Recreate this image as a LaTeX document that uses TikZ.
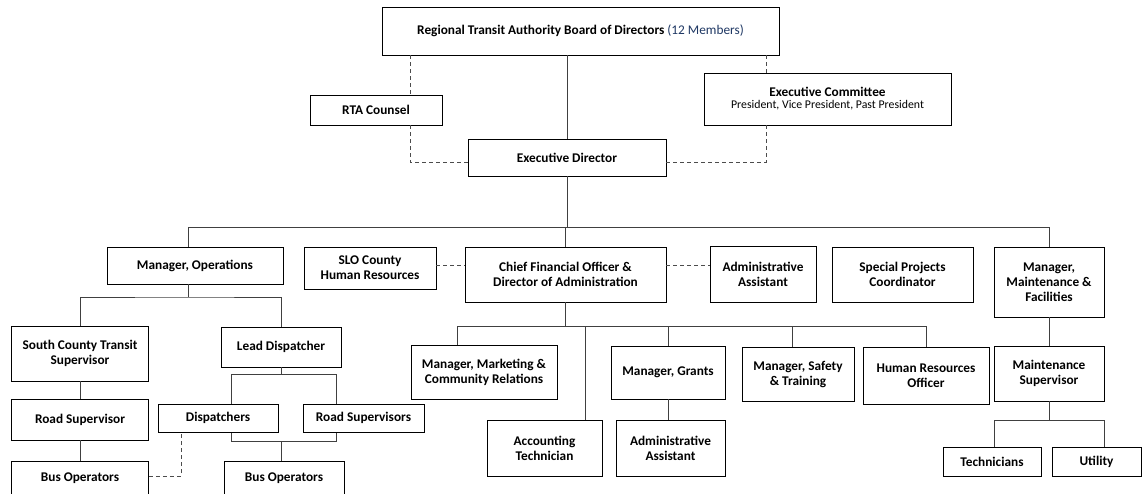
\documentclass[tikz,border=0pt]{standalone}
\usepackage{fontspec}
\setmainfont{Carlito}
\usepackage{tikz}
\usetikzlibrary{positioning,backgrounds}
\definecolor{memberblue}{RGB}{31,56,100}

\begin{document}
\begin{tikzpicture}[x=1pt,y=-1pt]
        % Setup the styles for the boxes and the lines
        \tikzset{box style/.style={draw,
                                   fill=white,
                                   line width=0.9pt,
                                   align=center,
                                   inner sep=0pt,
                                   font=\bfseries\fontsize{13.3}{15}\selectfont},
                 link style/.style={draw=black!75, line width=1pt},
                 dash style/.style={draw=black!70, line width=1pt, dashed,
                                    dash pattern=on 4pt off 3pt}}

        \useasboundingbox (0,0) rectangle (1142,493);
        \clip (0,0) rectangle (1142,493);

        % Draw the boxes
        \node[box style, minimum width=397, minimum height=48] at (580.5,31)   (board)
            {Regional Transit Authority Board of Directors {\mdseries\color{memberblue}(12 Members)}};
        \node[box style, minimum width=132, minimum height=30] at (376,110)    (counsel)     {RTA Counsel};
        \node[box style, minimum width=247, minimum height=52] at (827.5,99)   (excom)
            {Executive Committee\\[-3pt]{\mdseries\fontsize{11.8}{13}\selectfont President, Vice President, Past President}};
        \node[box style, minimum width=198, minimum height=37] at (567,157.5)  (exdir)       {Executive Director};

        \node[box style, minimum width=176, minimum height=37] at (195,265.5)  (mgrops)      {Manager, Operations};
        \node[box style, minimum width=132, minimum height=42] at (370,268)    (slohr)       {SLO County\\Human Resources};
        \node[box style, minimum width=201, minimum height=55] at (565.5,274.5) (cfo)        {Chief Financial Officer \&\\Director of Administration};
        \node[box style, minimum width=106, minimum height=56] at (763,274)    (adminasst)   {Administrative\\Assistant};
        \node[box style, minimum width=141, minimum height=55] at (902.5,274.5) (specproj)   {Special Projects\\Coordinator};
        \node[box style, minimum width=110, minimum height=70] at (1049,282)   (mgrmaint)    {Manager,\\Maintenance \&\\Facilities};

        \node[box style, minimum width=137, minimum height=55] at (80,353.5)   (sctsup)      {South County Transit\\Supervisor};
        \node[box style, minimum width=120, minimum height=40] at (281,347)    (leaddisp)    {Lead Dispatcher};
        \node[box style, minimum width=137, minimum height=41] at (80,419.5)   (roadsup)     {Road Supervisor};
        \node[box style, minimum width=137, minimum height=34] at (80,478)     (busopsl)     {Bus Operators};
        \node[box style, minimum width=120, minimum height=28] at (218,418)    (dispatchers) {Dispatchers};
        \node[box style, minimum width=121, minimum height=28] at (363.5,418)  (roadsups)    {Road Supervisors};
        \node[box style, minimum width=120, minimum height=34] at (284,478)    (busopsr)     {Bus Operators};

        \node[box style, minimum width=146, minimum height=54] at (484,372)    (mgrmkt)      {Manager, Marketing \&\\Community Relations};
        \node[box style, minimum width=115, minimum height=56] at (544.5,448)  (accttech)    {Accounting\\Technician};
        \node[box style, minimum width=114, minimum height=53] at (668,372.5)  (mgrgrants)   {Manager, Grants};
        \node[box style, minimum width=109, minimum height=56] at (670.5,448)  (adminasst2)  {Administrative\\Assistant};
        \node[box style, minimum width=112, minimum height=54] at (798,374)    (mgrsafety)   {Manager, Safety\\\& Training};
        \node[box style, minimum width=126, minimum height=57] at (926,375.5)  (hrofficer)   {Human Resources\\Officer};
        \node[box style, minimum width=110, minimum height=55] at (1049,373.5) (maintsup)    {Maintenance\\Supervisor};
        \node[box style, minimum width=98,  minimum height=29] at (992,461.5)  (techs)       {Technicians};
        \node[box style, minimum width=89,  minimum height=29] at (1096.5,461.5) (utility)   {Utility};

        % Corner points of the lines
        \coordinate (cl)  at (410,162);
        \coordinate (cr)  at (766,162);
        \coordinate (tbl) at (188,227);
        \coordinate (tbr) at (1049,227);
        \coordinate (hy)  at (0,265);
        \coordinate (ob)  at (188,297);
        \coordinate (dtl) at (231,374);
        \coordinate (dbr) at (336,441);
        \coordinate (dd)  at (181,476);
        \coordinate (fb)  at (0,326);
        \coordinate (mk)  at (457,326);
        \coordinate (ac)  at (585,326);
        \coordinate (sf)  at (792,326);
        \coordinate (mtl) at (994,420);
        \coordinate (mtr) at (1104,420);

        % Connect the boxes
        \begin{scope}[on background layer]
            \draw[link style] (dtl) rectangle (dbr);
        \end{scope}

        \draw[link style] (board.south -| exdir.north) -- (exdir.north);
        \draw[dash style] (board.south -| cl) -- (counsel.north -| cl);
        \draw[dash style] (counsel.south -| cl) -- (cl) -- (exdir.west |- cl);
        \draw[dash style] (board.south -| cr) -- (excom.north -| cr);
        \draw[dash style] (excom.south -| cr) -- (cr) -- (exdir.east |- cr);

        \draw[link style] (exdir.south) -- (exdir.south |- tbl);
        \draw[link style] (mgrops.north -| tbl) -- (tbl) -- (tbr) -- (mgrmaint.north);
        \draw[link style] (cfo.north |- tbl) -- (cfo.north);
        \draw[dash style] (slohr.east |- hy) -- (cfo.west |- hy);
        \draw[dash style] (cfo.east |- hy) -- (adminasst.west |- hy);

        % Operations
        \draw[link style] (mgrops.south -| ob) -- (ob);
        \draw[link style] (sctsup.north) |- (ob) -| (leaddisp.north);
        \draw[link style] (sctsup) -- (roadsup);
        \draw[link style] (roadsup) -- (busopsl);
        \draw[link style] (leaddisp.south) -- (leaddisp.south |- dtl);
        \draw[link style] (leaddisp.south |- dbr) -- (busopsr.north -| leaddisp.south);
        \draw[dash style] (busopsl.east |- dd) -- (dd) -- (dispatchers.south -| dd);

        % Administration
        \draw[link style] (cfo.south) -- (cfo.south |- fb);
        \draw[link style] (mgrmkt.north -| mk) -- (mk) -- (hrofficer.north |- fb) -- (hrofficer.north);
        \draw[link style] (ac) -- (accttech.north -| ac);
        \draw[link style] (mgrgrants.north |- fb) -- (mgrgrants.north);
        \draw[link style] (mgrgrants.south) -- (adminasst2.north -| mgrgrants.south);
        \draw[link style] (sf) -- (mgrsafety.north -| sf);

        % Maintenance
        \draw[link style] (mgrmaint) -- (maintsup);
        \draw[link style] (maintsup.south) -- (maintsup.south |- mtl);
        \draw[link style] (techs.north -| mtl) -- (mtl) -- (mtr) -- (utility.north -| mtr);
\end{tikzpicture}
\end{document}
